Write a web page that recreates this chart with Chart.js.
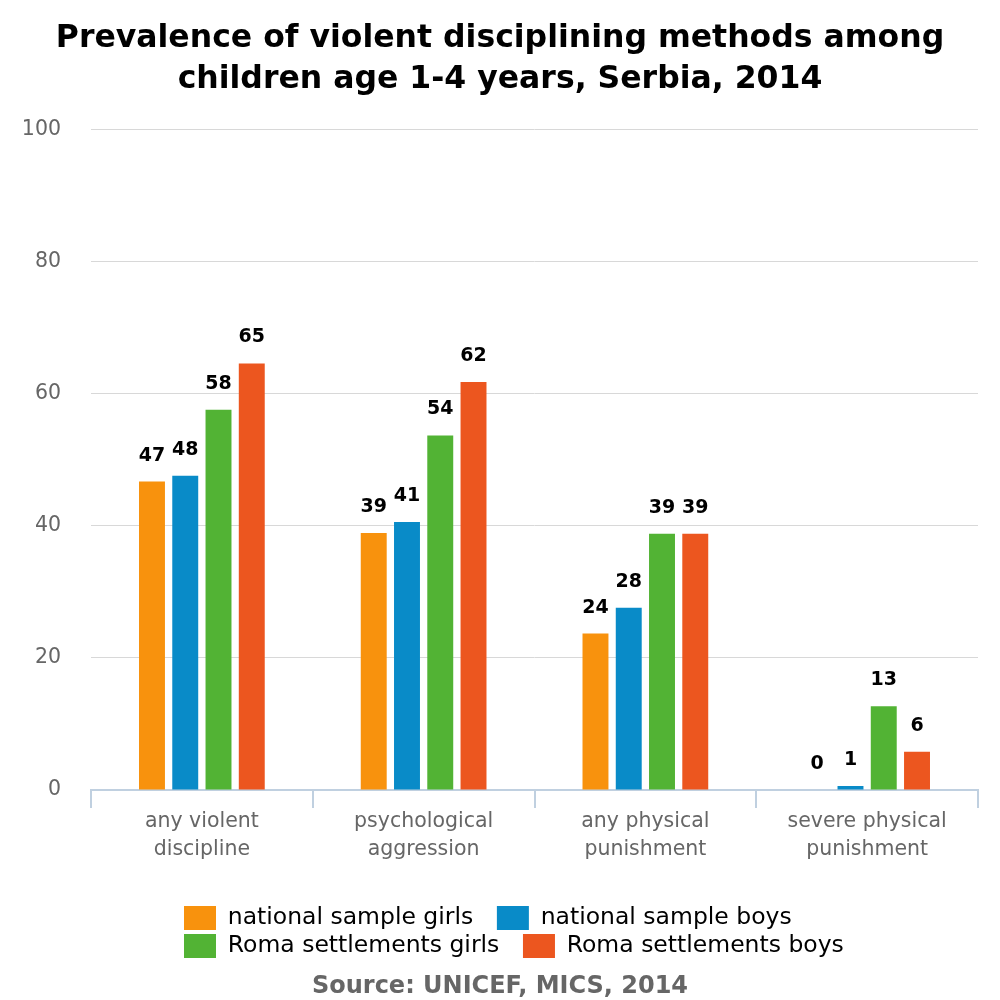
<!DOCTYPE html>
<html>
<head>
<meta charset="utf-8">
<script src="https://cdn.jsdelivr.net/npm/chart.js@4"></script>
<style>
  body { margin: 0; background: #fff; }
  #wrap { width: 1000px; height: 1000px; }
</style>
</head>
<body>
<div id="wrap"><canvas id="myChart"></canvas></div>
<script>
var categories = [["any violent", "discipline"], ["psychological", "aggression"], ["any physical", "punishment"], ["severe physical", "punishment"]];
var nationalGirls = [46.7, 38.9, 23.7, 0];
var nationalBoys = [47.6, 40.6, 27.6, 0.6];
var romaGirls = [57.6, 53.7, 38.8, 12.7];
var romaBoys = [64.6, 61.8, 38.8, 5.8];
var seriesNames = ["national sample girls", "national sample boys", "Roma settlements girls", "Roma settlements boys"];
var seriesColors = ["#F8920D", "#098BC8", "#52B334", "#EC561F"];
var yTicks = [0, 20, 40, 60, 80, 100];

Chart.defaults.font.family = "'DejaVu Sans', Verdana, sans-serif";

// numbers above bars
const barLabels = {
  id: "barLabels",
  afterDatasetsDraw(chart) {
    const ctx = chart.ctx;
    ctx.save();
    ctx.font = "bold 19px 'DejaVu Sans'";
    ctx.fillStyle = "#000";
    ctx.textAlign = "center";
    ctx.textBaseline = "alphabetic";
    chart.data.datasets.forEach(function (ds, i) {
      chart.getDatasetMeta(i).data.forEach(function (bar, j) {
        ctx.fillText(Math.round(ds.data[j]), bar.x, bar.y - 21);
      });
    });
    ctx.restore();
  }
};

// legend rows start at the same x, like the original
const legendBlock = {
  id: "legendBlock",
  beforeDraw(chart) {
    chart.legend.left = 180;
    chart.legend.right = 910;
  }
};

new Chart("myChart", {
  type: "bar",
  data: {
    labels: categories,
    datasets: [
      { label: seriesNames[0], data: nationalGirls, backgroundColor: seriesColors[0] },
      { label: seriesNames[1], data: nationalBoys, backgroundColor: seriesColors[1] },
      { label: seriesNames[2], data: romaGirls, backgroundColor: seriesColors[2] },
      { label: seriesNames[3], data: romaBoys, backgroundColor: seriesColors[3] }
    ]
  },
  plugins: [barLabels, legendBlock],
  options: {
    responsive: true,
    maintainAspectRatio: false,
    animation: false,
    layout: { padding: 0 },
    datasets: { bar: { categoryPercentage: 0.6, barPercentage: 0.78 } },
    plugins: {
      tooltip: { enabled: false },
      title: {
        display: true,
        text: ["Prevalence of violent disciplining methods among", "children age 1-4 years, Serbia, 2014"],
        color: "#000",
        font: { size: 31.5, weight: "bold", lineHeight: 1.28 },
        padding: { top: 19, bottom: 30 }
      },
      subtitle: {
        display: true,
        position: "bottom",
        text: "Source: UNICEF, MICS, 2014",
        color: "#666",
        font: { size: 24, weight: "bold", lineHeight: 1.083 },
        padding: { top: 6, bottom: 0 }
      },
      legend: {
        position: "bottom",
        align: "start",
        labels: {
          color: "#000",
          font: { size: 23.5 },
          boxWidth: 32,
          boxHeight: 24,
          padding: 4,
          generateLabels(chart) {
            return Chart.defaults.plugins.legend.labels.generateLabels(chart).map(function (l) {
              l.text = l.text + "  \u2009";
              return l;
            });
          }
        }
      }
    },
    scales: {
      x: {
        afterFit(scale) { scale.height = 112; },
        grid: { drawOnChartArea: false, color: "#C0D0E0", tickLength: 18, lineWidth: 2 },
        border: { color: "#C0D0E0", width: 2 },
        ticks: { color: "#666", font: { size: 20.5, lineHeight: 1.37 }, padding: 0, maxRotation: 0 }
      },
      y: {
        min: 0,
        max: 100,
        afterFit(scale) { scale.width = 91; },
        afterBuildTicks(scale) { scale.ticks = yTicks.map(function (v) { return { value: v }; }); },
        grid: { color: "#D8D8D8", drawTicks: false },
        border: { display: false },
        ticks: { color: "#666", font: { size: 20.5 }, padding: 30 }
      },
      // empty strip on the right so the titles stay centred on the page
      yRight: {
        position: "right",
        afterFit(scale) { scale.width = 22; },
        grid: { display: false },
        border: { display: false },
        ticks: { display: false }
      }
    }
  }
});
</script>
</body>
</html>
